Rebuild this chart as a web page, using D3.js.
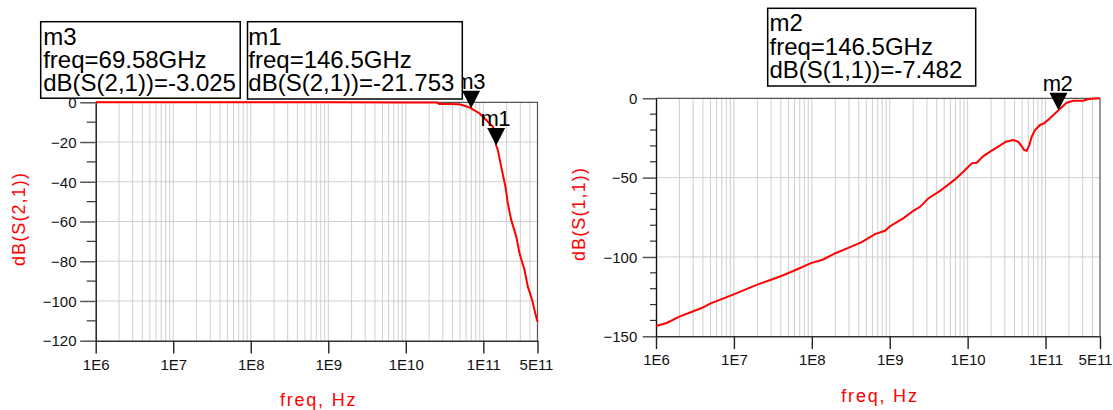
<!DOCTYPE html>
<html><head><meta charset="utf-8">
<script src="https://cdn.jsdelivr.net/npm/d3@7"></script>
<style>
body{margin:0;background:#fff;}
svg{display:block;font-family:"Liberation Sans",Arial,sans-serif;}
</style></head><body>
<svg id="c" width="1113" height="410"></svg>
<script>
// ---------- data ----------
const xTickValues = [1e6, 1e7, 1e8, 1e9, 1e10, 1e11, 5e11];
const xTickLabels = ["1E6", "1E7", "1E8", "1E9", "1E10", "1E11", "5E11"];

const s21Freq = [1e6, 1e7, 1e8, 1e9, 1e10, 2.5e10, 2.7e10, 3.5e10, 4.94e10, 6.27e10, 6.958e10, 8.87e10, 1.09e11, 1.33e11, 1.465e11, 1.54e11, 1.70e11, 1.93e11, 2.07e11, 2.29e11, 2.66e11, 2.93e11, 3.40e11, 3.75e11, 4.27e11, 4.57e11, 5e11];
const s21dB   = [0, 0, 0, 0, -0.05, -0.15, -0.8, -0.9, -1.0, -2.2, -3.025, -5.5, -8.9, -12.3, -21.753, -24.0, -32.4, -42.5, -50.8, -59.2, -67.6, -76.0, -84.4, -92.8, -99.5, -104.5, -110.4];

const s11Freq = [1e6, 1.37e6, 2.03e6, 3.01e6, 3.86e6, 5.04e6, 6.97e6, 1.03e7, 1.96e7, 3.05e7, 4.30e7, 6.40e7, 9.76e7, 1.40e8, 1.98e8, 2.94e8, 4.37e8, 6.47e8, 8.69e8, 1.01e9, 1.49e9, 2.01e9, 2.45e9, 3.13e9, 4.42e9, 6.89e9, 8.80e9, 1.13e10, 1.31e10, 1.59e10, 2.04e10, 2.47e10, 3.10e10, 3.85e10, 4.47e10, 4.94e10, 5.29e10, 5.73e10, 6.18e10, 6.64e10, 7.32e10, 8.49e10, 9.56e10, 1.14e11, 1.465e11, 1.87e11, 2.27e11, 3.05e11, 3.53e11, 5e11];
const s11dB   = [-143.5, -141.6, -137.4, -134.2, -132.2, -129.2, -126.6, -123.3, -117.6, -114.2, -111.5, -107.9, -103.9, -101.6, -97.8, -94.3, -90.7, -85.6, -83.5, -80.6, -75.7, -70.9, -68.4, -63.1, -58.4, -51.1, -46.3, -41.0, -40.6, -36.4, -33.0, -30.5, -27.4, -26.3, -27.4, -30.1, -32.6, -33.1, -29.5, -24.2, -20.0, -16.8, -15.8, -12.6, -7.482, -2.8, -1.5, -1.5, -0.4, 0];

const s21Ticks = [0, -20, -40, -60, -80, -100, -120];
const s11Ticks = [0, -50, -100, -150];

const markerNames = ["m3", "m1", "m2"];
const markerFreq  = [69.58e9, 146.5e9, 146.5e9];
const markerDB    = [-3.025, -21.753, -7.482];
const markerTrace = ["dB(S(2,1))", "dB(S(2,1))", "dB(S(1,1))"];
const markerFreqText = ["69.58GHz", "146.5GHz", "146.5GHz"];
const markerValText  = ["-3.025", "-21.753", "-7.482"];
const markerPanel = [0, 0, 1];

// ---------- layout ----------
const svg = d3.select("#c");
const RED = "#ff0000";

const panels = [
  {x0: 95.7, x1: 537.5, y0: 102.3, y1: 340.7, dom: [-120, 0], ticks: s21Ticks, minor: 10,
   majLen: 15.5, minLen: 9, tickPad: 3.7, ylab: "dB(S(2,1))", ylabX: 18.5, ylabY: 219,
   lastLabelShift: -1.5, freq: s21Freq, db: s21dB},
  {x0: 656, x1: 1100, y0: 98.3, y1: 336.3, dom: [-150, 0], ticks: s11Ticks, minor: 10,
   majLen: 13.3, minLen: 6, tickPad: 5.4, ylab: "dB(S(1,1))", ylabX: 578.5, ylabY: 214,
   lastLabelShift: -5, freq: s11Freq, db: s11dB}
];

const boxes = [
  {x: 40.7, y: 21.7, w: 199.5, h: 76.5, tx: 43.2},
  {x: 247.5, y: 21.7, w: 214.8, h: 77.3, tx: 248.3},
  {x: 767.7, y: 8.3, w: 208, h: 77.7, tx: 769.5}
];

panels.forEach(p => {
  p.x = d3.scaleLog().domain([1e6, 5e11]).range([p.x0, p.x1]);
  p.y = d3.scaleLinear().domain(p.dom).range([p.y1, p.y0]);
  const g = svg.append("g");

  // vertical grid
  const gridV = [];
  for (let k = 6; k <= 11; k++) for (let n = 1; n <= 9; n++) {
    const v = n * Math.pow(10, k);
    if (v > 1e6 && v < 5e11) gridV.push(v);
  }
  g.selectAll(".gv").data(gridV).join("line")
    .attr("x1", d => p.x(d)).attr("x2", d => p.x(d))
    .attr("y1", p.y0).attr("y2", p.y1)
    .attr("stroke", "#cfcfcf").attr("stroke-width", 1);
  // horizontal grid
  g.selectAll(".gh").data(p.ticks.filter(t => t !== p.dom[0] && t !== p.dom[1])).join("line")
    .attr("x1", p.x0).attr("x2", p.x1)
    .attr("y1", d => p.y(d)).attr("y2", d => p.y(d))
    .attr("stroke", "#cfcfcf").attr("stroke-width", 1);

  // frame top/right
  g.append("path").attr("d", `M${p.x0},${p.y0}H${p.x1}V${p.y1}`)
    .attr("fill", "none").attr("stroke", "#555").attr("stroke-width", 1.2);

  // minor y ticks
  const minors = d3.range(p.dom[0], p.dom[1] + 0.001, p.minor).filter(v => !p.ticks.includes(v));
  g.selectAll(".mt").data(minors).join("line")
    .attr("x1", p.x0 - p.minLen).attr("x2", p.x0)
    .attr("y1", d => p.y(d)).attr("y2", d => p.y(d))
    .attr("stroke", "#333").attr("stroke-width", 1.2);

  // y axis
  const ya = g.append("g").attr("transform", `translate(${p.x0},0)`)
    .call(d3.axisLeft(p.y).tickValues(p.ticks).tickFormat(d3.format("d"))
      .tickSize(p.majLen).tickSizeOuter(0).tickPadding(p.tickPad));
  ya.select(".domain").attr("stroke", "#111").attr("stroke-width", 1.4);
  ya.selectAll(".tick line").attr("stroke", "#555").attr("stroke-width", 1.5);
  ya.selectAll("text").attr("font-size", 15).attr("fill", "#111")
    .attr("font-family", "Liberation Sans, Arial, sans-serif").attr("dy", "0.35em");

  // x axis
  const xa = g.append("g").attr("transform", `translate(0,${p.y1})`)
    .call(d3.axisBottom(p.x).tickValues(xTickValues).tickFormat((d, i) => xTickLabels[i])
      .tickSize(12.7).tickSizeOuter(0).tickPadding(5.8));
  xa.select(".domain").attr("stroke", "#333").attr("stroke-width", 1.4);
  xa.selectAll(".tick line").attr("stroke", "#222").attr("stroke-width", 1.4);
  xa.selectAll("text").attr("font-size", 15).attr("fill", "#111")
    .attr("font-family", "Liberation Sans, Arial, sans-serif")
    .attr("dx", (d, i) => i === xTickValues.length - 1 ? p.lastLabelShift : 0);

  // axis titles
  svg.append("text").attr("x", (p.x0 + p.x1) / 2 + 2).attr("y", p.y1 + 65.5)
    .attr("text-anchor", "middle").attr("font-size", 18).attr("letter-spacing", 1.8)
    .attr("fill", RED).text("freq, Hz");
  svg.append("text").attr("transform", `translate(${p.ylabX},${p.ylabY}) rotate(-90)`)
    .attr("text-anchor", "middle").attr("dominant-baseline", "central")
    .attr("font-size", 18).attr("letter-spacing", 1.1)
    .attr("fill", RED).text(p.ylab);

  // curve
  const pts = p.freq.map((f, i) => [f, p.db[i]]);
  g.append("path").datum(pts)
    .attr("d", d3.line().x(d => p.x(d[0])).y(d => p.y(d[1])))
    .attr("fill", "none").attr("stroke", RED).attr("stroke-width", 2);
});

// markers
markerNames.forEach((name, i) => {
  const p = panels[markerPanel[i]];
  const mx = p.x(markerFreq[i]), my = p.y(markerDB[i]);
  svg.append("path")
    .attr("d", `M${mx},${my}L${mx - 9},${my - 17.5}L${mx + 9},${my - 17.5}Z`)
    .attr("fill", "#000");
  svg.append("text").attr("x", mx - 1).attr("y", my - 19.5)
    .attr("text-anchor", "middle").attr("font-size", 22).attr("letter-spacing", -0.5)
    .attr("fill", "#000").text(name);

  const b = boxes[i];
  svg.append("rect").attr("x", b.x).attr("y", b.y).attr("width", b.w).attr("height", b.h)
    .attr("fill", "#fff").attr("stroke", "#000").attr("stroke-width", 1.5);
  const lines = [name, "freq=" + markerFreqText[i], markerTrace[i] + "=" + markerValText[i]];
  lines.forEach((t, j) => {
    svg.append("text").attr("x", b.tx).attr("y", b.y + 23 + j * 23.2)
      .attr("font-size", 24).attr("fill", "#000").text(t);
  });
});
</script>
</body></html>
